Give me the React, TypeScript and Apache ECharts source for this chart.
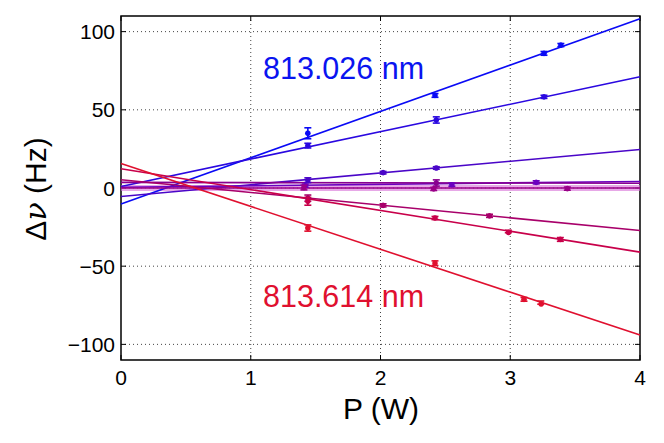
import React, { useEffect, useRef } from "react";
import * as echarts from "echarts";

// ---- data ----
const pRange = [0, 4];
const xTicks = [0, 1, 2, 3, 4];
const yTicks = [-100, -50, 0, 50, 100];

const lineColors = ["#0a0af5", "#2a08e0", "#4a06c8", "#6a00c0", "#880090", "#9a0088", "#a8006a", "#c8004a", "#e0102f"];
// fitted line values at P = 0 and P = 4
const fitAt0 = [-10.3, 1.0, -5.4, 0.5, 3.6, 0.0, 5.3, 12.3, 15.6];
const fitAt4 = [108.3, 71.1, 24.6, 4.2, 3.0, 0.0, -27.2, -41.0, -94.0];

// measured points per line
const pointsP = [
  [1.44, 2.42, 3.26, 3.39],
  [1.44, 2.43, 3.26],
  [1.44, 2.02, 2.43],
  [1.42, 2.55, 3.2],
  [2.43],
  [1.41, 2.41, 3.44],
  [1.44, 2.02, 2.84],
  [1.44, 2.42, 2.985, 3.386],
  [1.44, 2.42, 3.106, 3.235],
];
const pointsDv = [
  [35.0, 59.2, 86.1, 91.4],
  [27.1, 43.5, 58.3],
  [5.0, 9.8, 12.8],
  [1.5, 2.1, 3.6],
  [3.2],
  [0.3, -0.6, -0.4],
  [-6.5, -11.1, -17.8],
  [-8.5, -19.2, -27.8, -32.9],
  [-25.6, -48.1, -71.2, -73.3],
];
const pointsErr = [
  [3.5, 1.2, 1.2, 1.0],
  [1.5, 2.0, 1.0],
  [1.5, 0.8, 0.8],
  [1.0, 1.0, 1.0],
  [2.0],
  [1.5, 1.0, 1.0],
  [2.0, 1.0, 1.0],
  [2.5, 1.0, 0.8, 1.2],
  [2.0, 1.5, 1.2, 1.0],
];

const labelBlue = "813.026 nm";
const labelRed = "813.614 nm";

const FONT = "Liberation Sans, Arial, sans-serif";

function fmt(v: number) {
  const r = Math.round(v);
  if (r % 50 !== 0) return "";
  return r < 0 ? "\u2212" + Math.abs(r) : String(r);
}

export default function App() {
  const ref = useRef<HTMLDivElement>(null);
  useEffect(() => {
    if (!ref.current) return;
    const chart = echarts.init(ref.current, null, { renderer: "svg" });

    const lineSeries: any[] = [];
    lineColors.forEach((c, i) => {
      if (i === 5) {
        lineSeries.push({
          type: "line",
          data: [
            [pRange[0], fitAt0[i]],
            [pRange[1], fitAt4[i]],
          ],
          showSymbol: false,
          silent: true,
          z: 2,
          lineStyle: { color: "rgba(215,110,215,0.6)", width: 6 },
        });
      }
      lineSeries.push({
        type: "line",
        data: [
          [pRange[0], fitAt0[i]],
          [pRange[1], fitAt4[i]],
        ],
        showSymbol: false,
        silent: true,
        z: 3,
        lineStyle: { color: c, width: 1.6 },
      });
    });

    const errData: number[][] = [];
    pointsP.forEach((arr, k) => {
      arr.forEach((p, j) => errData.push([p, pointsDv[k][j], pointsErr[k][j], k]));
    });

    const option: any = {
      animation: false,
      grid: {
        left: 121,
        right: 24,
        top: 16,
        bottom: 83,
        show: true,
        borderColor: "#000",
        borderWidth: 1.5,
        backgroundColor: "transparent",
      },
      xAxis: {
        type: "value",
        min: 0,
        max: 4,
        interval: 1,
        axisLine: { show: false },
        axisTick: { show: false },
        splitLine: { show: false },
        axisLabel: { fontSize: 21, color: "#000", fontFamily: FONT, margin: 7 },
      },
      yAxis: {
        type: "value",
        min: -110,
        max: 110,
        interval: 10,
        axisLine: { show: false },
        axisTick: { show: false },
        splitLine: { show: false },
        axisLabel: { fontSize: 21, color: "#000", fontFamily: FONT, margin: 6, formatter: fmt },
      },
      graphic: [
        {
          type: "text",
          x: 381,
          y: 408,
          style: {
            text: "P (W)",
            font: `30px ${FONT}`,
            fill: "#000",
            align: "center",
            verticalAlign: "middle",
          },
        },
        {
          type: "text",
          x: 35,
          y: 189,
          rotation: Math.PI / 2,
          style: {
            text: "{a|\u0394}{b|\u03bd}{a| (Hz)}",
            align: "center",
            verticalAlign: "middle",
            fill: "#000",
            rich: {
              a: { fontSize: 30, fontFamily: FONT, fill: "#000" },
              b: { fontSize: 30, fontFamily: "DejaVu Serif, serif", fontStyle: "italic", fill: "#000" },
            },
          },
        },
        {
          type: "text",
          x: 263,
          y: 68,
          style: {
            text: labelBlue,
            font: `30.5px ${FONT}`,
            fill: "#0a14f0",
            align: "left",
            verticalAlign: "middle",
          },
        },
        {
          type: "text",
          x: 263,
          y: 296,
          style: {
            text: labelRed,
            font: `30.5px ${FONT}`,
            fill: "#e0102f",
            align: "left",
            verticalAlign: "middle",
          },
        },
      ],
      series: [
        {
          type: "custom",
          z: 1,
          silent: true,
          data: [[0, 0]],
          renderItem: (params: any, api: any) => {
            const cs = params.coordSys;
            const children: any[] = [];
            const L = 5;
            const dot = { stroke: "#444", lineWidth: 1, lineDash: [1, 3] };
            const tk = { stroke: "#000", lineWidth: 1 };
            yTicks.forEach((v) => {
              const y = api.coord([0, v])[1];
              children.push({ type: "line", shape: { x1: cs.x, y1: y, x2: cs.x + cs.width, y2: y }, style: dot });
              children.push({ type: "line", shape: { x1: cs.x, y1: y, x2: cs.x + L, y2: y }, style: tk });
              children.push({ type: "line", shape: { x1: cs.x + cs.width - L, y1: y, x2: cs.x + cs.width, y2: y }, style: tk });
            });
            xTicks.forEach((v) => {
              const x = api.coord([v, 0])[0];
              if (v > 0 && v < 4) {
                children.push({ type: "line", shape: { x1: x, y1: cs.y, x2: x, y2: cs.y + cs.height }, style: dot });
              }
              children.push({ type: "line", shape: { x1: x, y1: cs.y + cs.height, x2: x, y2: cs.y + cs.height - L }, style: tk });
              children.push({ type: "line", shape: { x1: x, y1: cs.y, x2: x, y2: cs.y + L }, style: tk });
            });
            return { type: "group", children };
          },
        },
        ...lineSeries,
        {
          type: "custom",
          z: 4,
          silent: true,
          data: errData,
          renderItem: (params: any, api: any) => {
            const x = api.value(0);
            const y = api.value(1);
            const e = api.value(2);
            const k = api.value(3);
            const c = lineColors[k];
            const top = api.coord([x, y + e]);
            const bot = api.coord([x, y - e]);
            const ctr = api.coord([x, y]);
            const st = { stroke: c, lineWidth: 1.6 };
            const cw = 3.5;
            return {
              type: "group",
              children: [
                { type: "line", shape: { x1: top[0], y1: top[1], x2: bot[0], y2: bot[1] }, style: st },
                { type: "line", shape: { x1: top[0] - cw, y1: top[1], x2: top[0] + cw, y2: top[1] }, style: st },
                { type: "line", shape: { x1: bot[0] - cw, y1: bot[1], x2: bot[0] + cw, y2: bot[1] }, style: st },
                { type: "circle", shape: { cx: ctr[0], cy: ctr[1], r: 2.8 }, style: { fill: c } },
              ],
            };
          },
        },
      ],
    };
    chart.setOption(option);
    return () => chart.dispose();
  }, []);
  return (
    <div
      ref={ref}
      style={{ position: "absolute", left: 0, top: 0, width: 664, height: 443, background: "#fff" }}
    />
  );
}
